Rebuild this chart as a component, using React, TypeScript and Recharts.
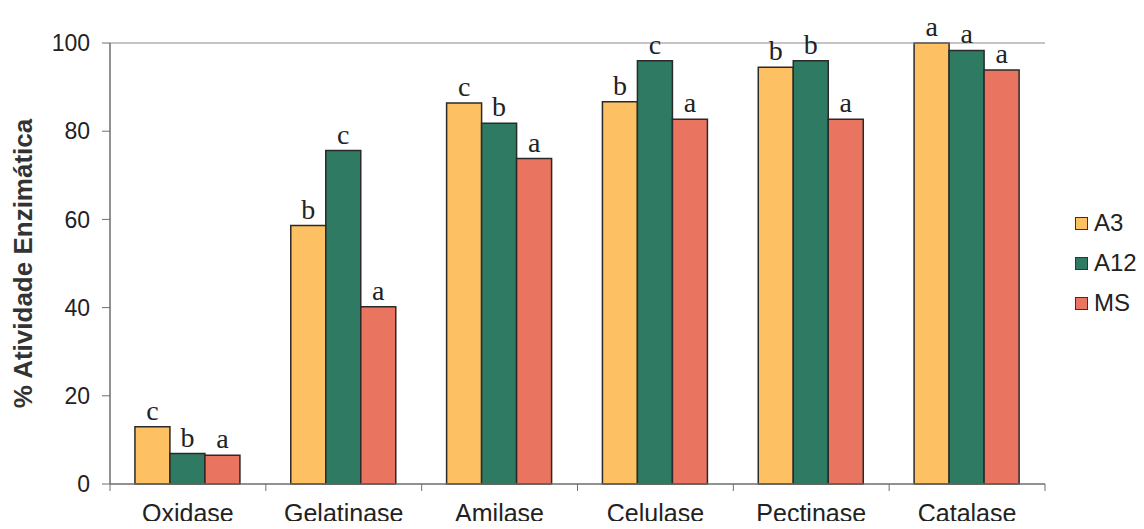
import React from 'react';
import { BarChart, Bar, XAxis, YAxis, CartesianGrid, Legend, LabelList, ReferenceLine } from 'recharts';

const categories = ['Oxidase', 'Gelatinase', 'Amilase', 'Celulase', 'Pectinase', 'Catalase'];
const a3Values = [13, 58.6, 86.4, 86.7, 94.5, 100];
const a12Values = [6.9, 75.6, 81.8, 96, 96, 98.3];
const msValues = [6.5, 40.2, 73.8, 82.7, 82.7, 93.9];
const a3Letters = ['c', 'b', 'c', 'b', 'b', 'a'];
const a12Letters = ['b', 'c', 'b', 'c', 'b', 'a'];
const msLetters = ['a', 'a', 'a', 'a', 'a', 'a'];
const yTicks = [0, 20, 40, 60, 80, 100];
const seriesNames = ['A3', 'A12', 'MS'];
const seriesColors = ['#FDC062', '#2F7A62', '#E97560'];

const data = categories.map((cat, i) => ({
  cat,
  A3: a3Values[i],
  A12: a12Values[i],
  MS: msValues[i],
  lA3: a3Letters[i],
  lA12: a12Letters[i],
  lMS: msLetters[i],
}));

const sans = '"Liberation Sans", Arial, sans-serif';
const serif = '"Liberation Serif", "Times New Roman", serif';
const axisGray = '#6e6e6e';

const CategoryTick = (props: any) => {
  const { x, y, payload } = props;
  return (
    <text x={x} y={y + 38} textAnchor="middle" fontFamily={sans} fontSize={25} fill="#222">
      {payload.value}
    </text>
  );
};

const YLabel = (props: any) => {
  const { viewBox } = props;
  const cx = viewBox.x + 23;
  const cy = viewBox.y + viewBox.height / 2;
  return (
    <text
      x={cx}
      y={cy}
      transform={`rotate(-90 ${cx} ${cy})`}
      textAnchor="middle"
      dominantBaseline="central"
      fontFamily={sans}
      fontWeight="bold"
      fontSize={26}
      fill="#333"
    >
      % Atividade Enzimática
    </text>
  );
};

const LegendBox = () => (
  <div style={{ fontFamily: sans, fontSize: 24, color: '#222' }}>
    {seriesNames.map((name, i) => (
      <div key={name} style={{ height: 40, display: 'flex', alignItems: 'center' }}>
        <span
          style={{
            display: 'inline-block',
            width: 11,
            height: 11,
            background: seriesColors[i],
            border: '1px solid #333',
            marginRight: 6,
          }}
        />
        <span>{name}</span>
      </div>
    ))}
  </div>
);

// tick marks at the category boundaries, below the x axis
const boundaryTicks = ({ offset }: any) => {
  const step = offset.width / categories.length;
  return [...categories.map((_, i) => offset.left + i * step), offset.left + offset.width];
};

const labelStyle = { fontFamily: serif, fontSize: 28, fill: '#222' };

export default function App() {
  return (
    <div style={{ margin: -8, width: 1144, height: 529, overflow: 'hidden', background: '#fff' }}>
      <BarChart
        width={1144}
        height={529}
        data={data}
        margin={{ top: 43, right: 29, bottom: 0, left: 0 }}
        barCategoryGap="16%"
        barGap={0}
      >
        <CartesianGrid
          horizontal={false}
          y={484}
          height={7}
          stroke={axisGray}
          verticalCoordinatesGenerator={boundaryTicks}
        />
        <XAxis
          dataKey="cat"
          height={45}
          tickLine={false}
          tickSize={0}
          tickMargin={0}
          axisLine={{ stroke: axisGray, strokeWidth: 1.5 }}
          tick={<CategoryTick />}
          interval={0}
        />
        <YAxis
          width={110}
          domain={[0, 100]}
          ticks={yTicks}
          tickSize={8}
          tickMargin={12}
          axisLine={{ stroke: axisGray, strokeWidth: 1.5 }}
          tickLine={{ stroke: axisGray }}
          tick={{ fontFamily: sans, fontSize: 23, fill: '#222' }}
          label={<YLabel />}
        />
        <YAxis
          yAxisId="frame"
          orientation="right"
          width={0}
          domain={[0, 100]}
          tick={false}
          tickLine={false}
          axisLine={{ stroke: '#8a8a8a' }}
        />
        <ReferenceLine y={100} stroke="#8a8a8a" />
        <Legend
          content={<LegendBox />}
          layout="vertical"
          align="right"
          verticalAlign="middle"
          wrapperStyle={{ left: 1075, top: 203, width: 70 }}
        />
        <Bar dataKey="A3" name="A3" fill={seriesColors[0]} stroke="#2a2a2a" strokeWidth={1.5} isAnimationActive={false}>
          <LabelList dataKey="lA3" position="top" offset={7} style={labelStyle} />
        </Bar>
        <Bar dataKey="A12" name="A12" fill={seriesColors[1]} stroke="#2a2a2a" strokeWidth={1.5} isAnimationActive={false}>
          <LabelList dataKey="lA12" position="top" offset={7} style={labelStyle} />
        </Bar>
        <Bar dataKey="MS" name="MS" fill={seriesColors[2]} stroke="#2a2a2a" strokeWidth={1.5} isAnimationActive={false}>
          <LabelList dataKey="lMS" position="top" offset={7} style={labelStyle} />
        </Bar>
      </BarChart>
    </div>
  );
}
